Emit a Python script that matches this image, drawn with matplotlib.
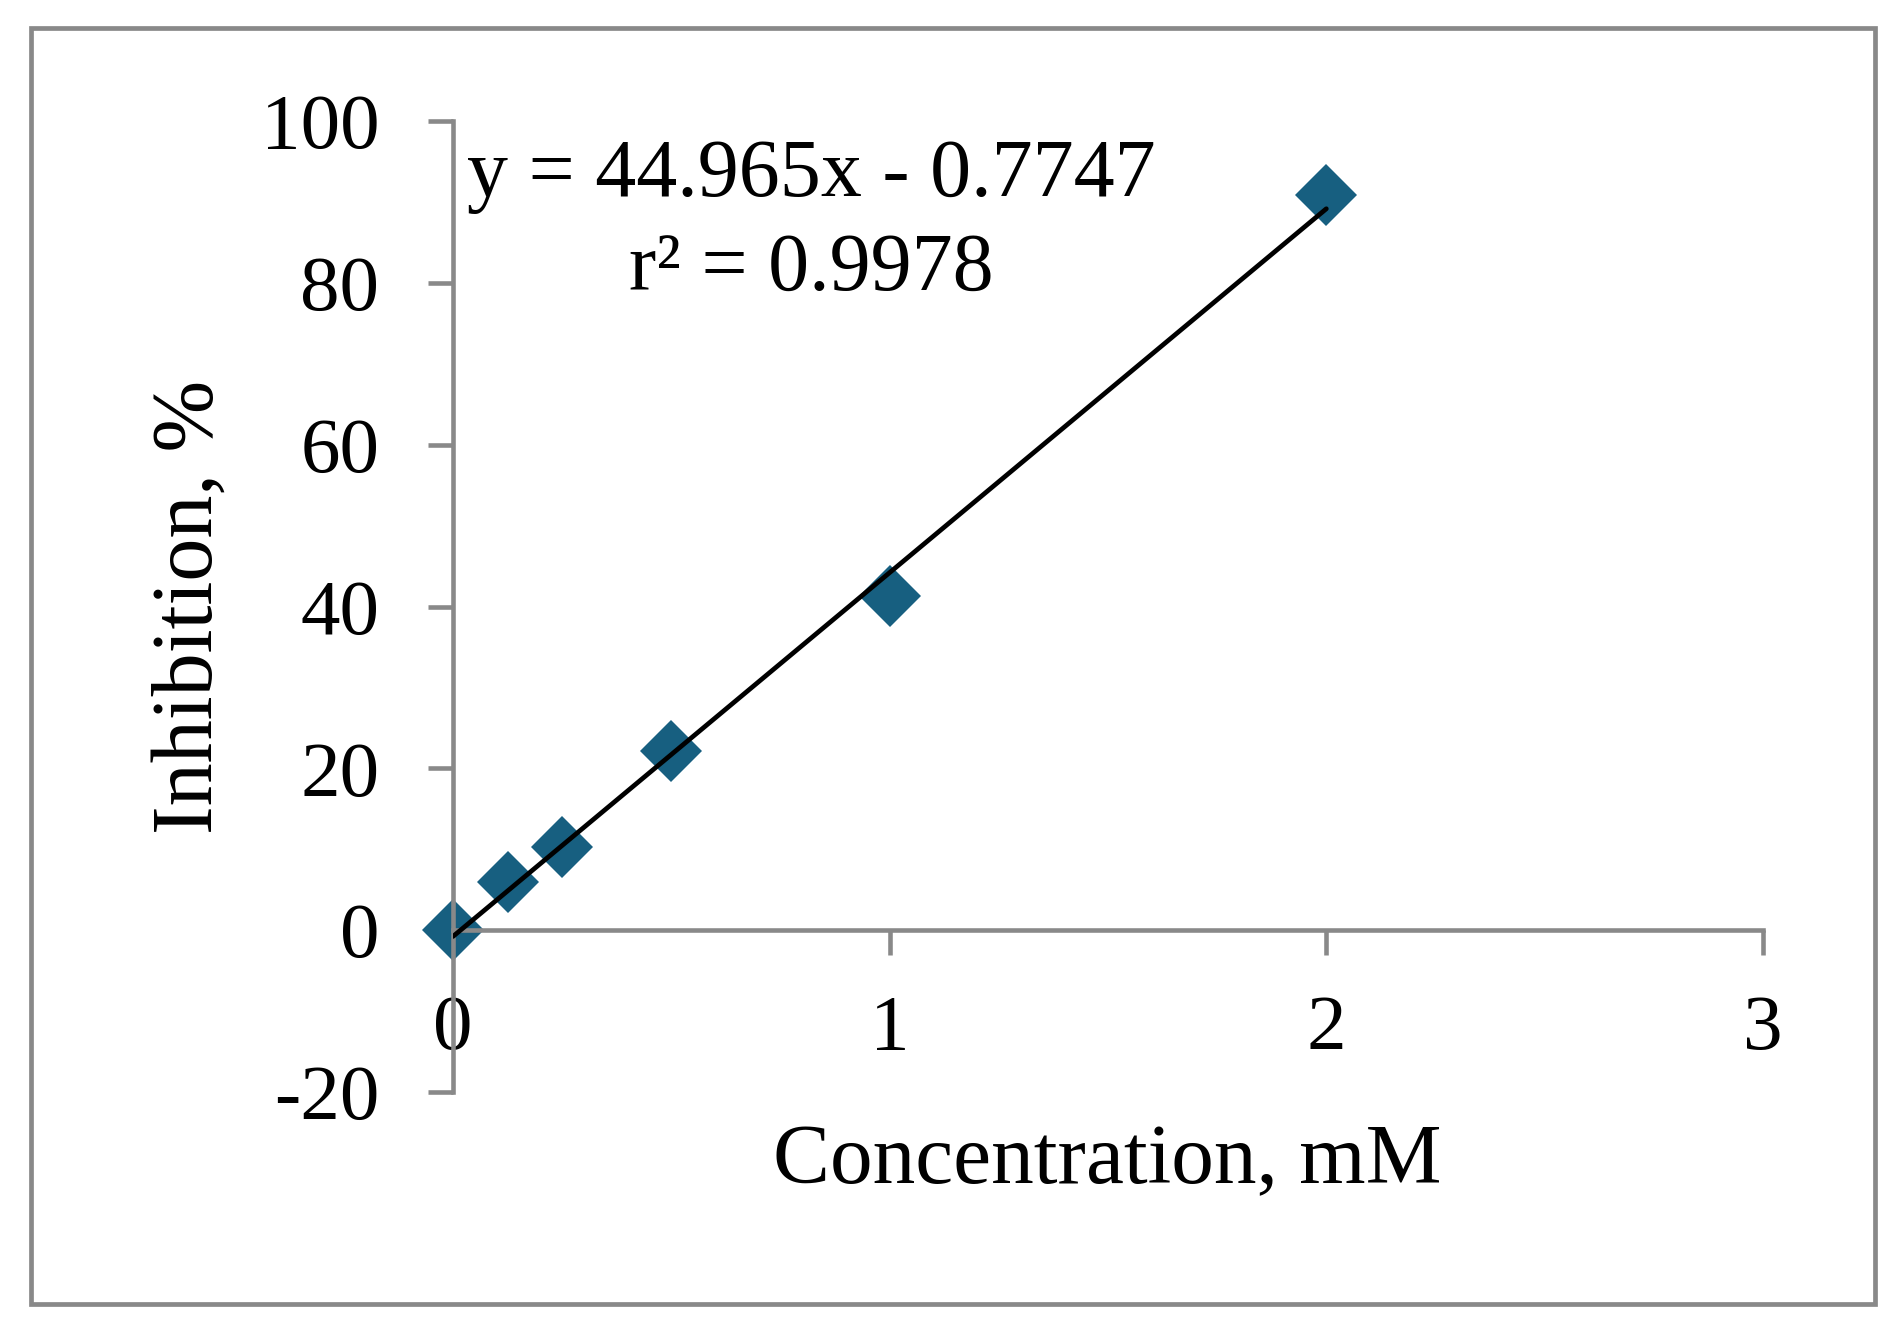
import matplotlib
matplotlib.use("Agg")
import matplotlib.pyplot as plt
from matplotlib.patches import Rectangle
import numpy as np

plt.rcParams['font.family'] = ['Liberation Serif', 'DejaVu Serif']
plt.rcParams['axes.unicode_minus'] = False

# Data
concentration = [0, 0.125, 0.25, 0.5, 1, 2]
inhibition = [0.0, 5.9, 10.3, 22.1, 41.3, 90.8]
slope = 44.965
intercept = -0.7747
r2 = 0.9978
x_ticks = [0, 1, 2, 3]
y_ticks = [-20, 0, 20, 40, 60, 80, 100]
x_label = "Concentration, mM"
y_label = "Inhibition, %"

W, H = 1899, 1333
fig = plt.figure(figsize=(W / 100, H / 100), dpi=100)
ax = fig.add_axes([453 / W, 1 - 1092 / H, (1763 - 453) / W, (1092 - 121) / H])

gray = '#898989'
ax.set_xlim(0, 3)
ax.set_ylim(-20, 100)
ax.spines['top'].set_visible(False)
ax.spines['right'].set_visible(False)
ax.spines['left'].set_position(('data', 0))
ax.spines['bottom'].set_position(('data', 0))
for s in ('left', 'bottom'):
    ax.spines[s].set_color(gray)
    ax.spines[s].set_linewidth(3.3)
ax.set_xticks(x_ticks)
ax.set_yticks(y_ticks)
ax.set_xticklabels([str(v) for v in x_ticks])
ax.set_yticklabels([str(v) for v in y_ticks])
ax.tick_params(axis='both', direction='out', length=18, width=3.3, color=gray,
               labelsize=57, labelcolor='black')
ax.tick_params(axis='y', pad=35)
ax.tick_params(axis='x', pad=28)

# Trend line
xfit = np.array([min(concentration), max(concentration)])
ax.plot(xfit, slope * xfit + intercept, color='black', lw=3.4, zorder=3,
        solid_capstyle='round')

# Points
ax.plot(concentration, inhibition, linestyle='none', marker='D', ms=31.5,
        color='#175F80', markeredgewidth=0, zorder=2, clip_on=False)

# Equation
ax.text(0.82, 90.7, f"y = {slope}x - {abs(intercept)}", ha='center', va='baseline',
        fontsize=59, color='black')
ax.text(0.82, 79.0, f"r\u00b2 = {r2}", ha='center', va='baseline',
        fontsize=59, color='black')

# Axis labels
fig.text(1107 / W, 1 - 1183 / H, x_label, ha='center', va='baseline', fontsize=61.5)
fig.text(212 / W, 1 - 607 / H, y_label, ha='center', va='baseline', rotation=90,
         rotation_mode='anchor', fontsize=62)

# Outer border
fig.patches.append(Rectangle((31 / W, 1 - 1304 / H), (1875 - 31) / W, (1304 - 28) / H,
                             transform=fig.transFigure, fill=False, edgecolor=gray,
                             linewidth=3.4))

fig.savefig('out.png', dpi=100, facecolor='white')
